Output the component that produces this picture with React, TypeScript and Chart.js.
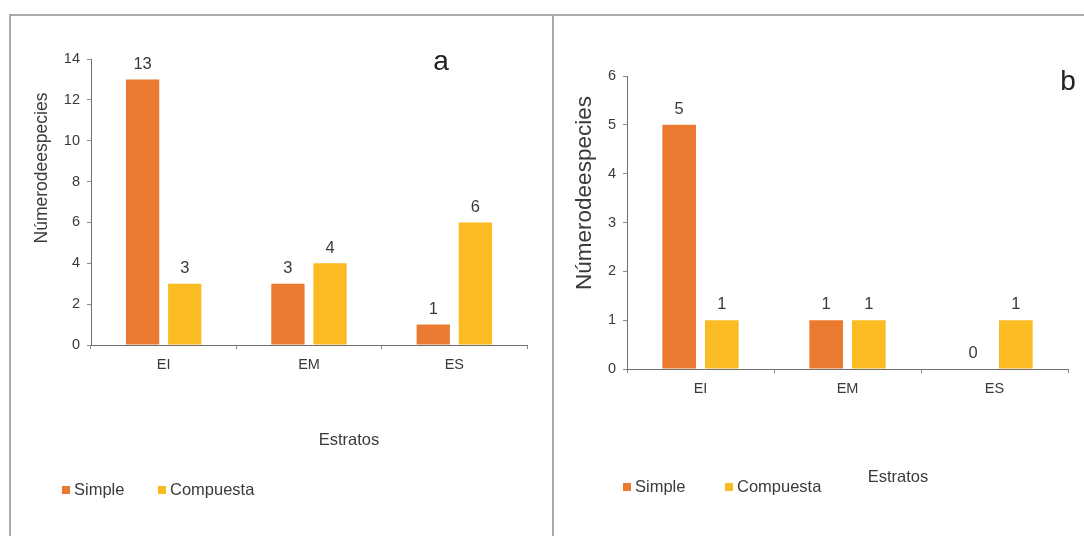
import React, { useEffect, useRef } from "react";
import { Chart, registerables } from "chart.js";
Chart.register(...registerables);

const categories = ["EI", "EM", "ES"];
const seriesNames = ["Simple", "Compuesta"];
const simpleA = [13, 3, 1];
const compuestaA = [3, 4, 6];
const simpleB = [5, 1, 0];
const compuestaB = [1, 1, 1];
const yMaxA = 14;
const yStepA = 2;
const yMaxB = 6;
const yStepB = 1;
const yTitleText = "Númerodeespecies";
const xTitleText = "Estratos";
const panelLetters = ["a", "b"];

const COLORS = ["#EA7A2F", "#FBBB22"];
const FONT = "'Liberation Sans', Arial, sans-serif";
const TEXT = "#3a3a3a";

const overlayPlugin = {
  id: "overlay",
  afterDatasetsDraw(chart: any, _args: any, o: any) {
    const ctx = chart.ctx;
    ctx.save();
    // data labels
    ctx.font = `${o.labelSize}px ${FONT}`;
    ctx.fillStyle = TEXT;
    ctx.textAlign = "center";
    ctx.textBaseline = "bottom";
    chart.data.datasets.forEach((ds: any, i: number) => {
      const meta = chart.getDatasetMeta(i);
      meta.data.forEach((el: any, j: number) => {
        ctx.fillText(String(ds.data[j]), el.x, el.y - o.labelGap);
      });
    });
    // panel letter
    ctx.font = `${o.letterSize}px ${FONT}`;
    ctx.fillStyle = "#222";
    ctx.textBaseline = "middle";
    ctx.fillText(o.letter, o.letterX, o.letterY);
    // y title
    ctx.save();
    ctx.translate(o.yTitleX, o.yTitleY);
    ctx.rotate(-Math.PI / 2);
    ctx.font = `${o.yTitleSize}px ${FONT}`;
    ctx.fillStyle = TEXT;
    ctx.textAlign = "center";
    ctx.textBaseline = "middle";
    ctx.fillText(yTitleText, 0, 0);
    ctx.restore();
    // x title
    ctx.font = `${o.xTitleSize}px ${FONT}`;
    ctx.fillStyle = TEXT;
    ctx.textAlign = "center";
    ctx.textBaseline = "middle";
    ctx.fillText(xTitleText, o.xTitleX, o.xTitleY);
    // legend
    ctx.font = `${o.legendSize}px ${FONT}`;
    ctx.textAlign = "left";
    chart.data.datasets.forEach((ds: any, i: number) => {
      const x = o.legendX[i];
      const y = o.legendY;
      ctx.fillStyle = ds.backgroundColor;
      ctx.fillRect(x, y - 4, 8, 8);
      ctx.fillStyle = TEXT;
      ctx.fillText(ds.label, x + 12, y);
    });
    ctx.restore();
  },
};

function makeConfig(
  simple: number[],
  compuesta: number[],
  yMax: number,
  yStep: number,
  yWidth: number,
  padding: any,
  overlay: any
): any {
  return {
    type: "bar",
    data: {
      labels: categories,
      datasets: [
        { label: seriesNames[0], data: simple, backgroundColor: COLORS[0] },
        { label: seriesNames[1], data: compuesta, backgroundColor: COLORS[1] },
      ],
    },
    options: {
      responsive: false,
      animation: false,
      devicePixelRatio: 1,
      layout: { padding },
      datasets: { bar: { categoryPercentage: 0.58, barPercentage: 0.79 } },
      plugins: {
        legend: { display: false },
        tooltip: { enabled: false },
        overlay,
      },
      scales: {
        x: {
          afterFit: (s: any) => {
            s.height = 30;
          },
          border: { display: true, color: "#6f6f6f", width: 1 },
          grid: {
            display: true,
            drawOnChartArea: false,
            drawTicks: true,
            tickLength: 4,
            tickColor: "#8a8a8a",
          },
          ticks: { color: TEXT, font: { family: FONT, size: 14.5 }, padding: 7 },
        },
        y: {
          min: 0,
          max: yMax,
          afterFit: (s: any) => {
            s.width = yWidth;
          },
          border: { display: true, color: "#6f6f6f", width: 1 },
          grid: {
            display: true,
            drawOnChartArea: false,
            drawTicks: true,
            tickLength: 4,
            tickColor: "#8a8a8a",
          },
          ticks: {
            stepSize: yStep,
            color: TEXT,
            font: { family: FONT, size: 14.5 },
            padding: 7,
          },
        },
      },
    },
    plugins: [overlayPlugin],
  };
}

export default function App() {
  const refA = useRef<HTMLCanvasElement | null>(null);
  const refB = useRef<HTMLCanvasElement | null>(null);

  useEffect(() => {
    const chartA = new Chart(
      refA.current as HTMLCanvasElement,
      makeConfig(
        simpleA,
        compuestaA,
        yMaxA,
        yStepA,
        91,
        { left: 0, top: 59, right: 26, bottom: 161 },
        {
          labelSize: 16.5,
          labelGap: 7,
          letter: panelLetters[0],
          letterSize: 28,
          letterX: 441,
          letterY: 62,
          yTitleX: 42,
          yTitleY: 168,
          yTitleSize: 17.5,
          xTitleX: 349,
          xTitleY: 440,
          xTitleSize: 16.5,
          legendX: [62, 158],
          legendY: 490,
          legendSize: 16.5,
        }
      )
    );
    const chartB = new Chart(
      refB.current as HTMLCanvasElement,
      makeConfig(
        simpleB,
        compuestaB,
        yMaxB,
        yStepB,
        74,
        { left: 0, top: 76, right: 16, bottom: 137 },
        {
          labelSize: 16.5,
          labelGap: 7,
          letter: panelLetters[1],
          letterSize: 28,
          letterX: 1068 - 553,
          letterY: 82,
          yTitleX: 585 - 553,
          yTitleY: 193,
          yTitleSize: 22.5,
          xTitleX: 898 - 553,
          xTitleY: 477,
          xTitleSize: 16.5,
          legendX: [623 - 553, 725 - 553],
          legendY: 487,
          legendSize: 16.5,
        }
      )
    );
    return () => {
      chartA.destroy();
      chartB.destroy();
    };
  }, []);

  return (
    <div
      style={{
        position: "absolute",
        left: 0,
        top: 0,
        width: 1084,
        height: 536,
        overflow: "hidden",
        background: "#fff",
      }}
    >
      <div
        style={{
          position: "absolute",
          left: 9,
          top: 14,
          width: 1200,
          height: 700,
          borderTop: "2px solid #ababab",
          borderLeft: "2px solid #ababab",
        }}
      />
      <div
        style={{
          position: "absolute",
          left: 552,
          top: 14,
          width: 2,
          height: 700,
          background: "#ababab",
        }}
      />
      <canvas
        ref={refA}
        width={553}
        height={536}
        style={{ position: "absolute", left: 0, top: 0, width: 553, height: 536 }}
      />
      <canvas
        ref={refB}
        width={531}
        height={536}
        style={{ position: "absolute", left: 553, top: 0, width: 531, height: 536 }}
      />
    </div>
  );
}
